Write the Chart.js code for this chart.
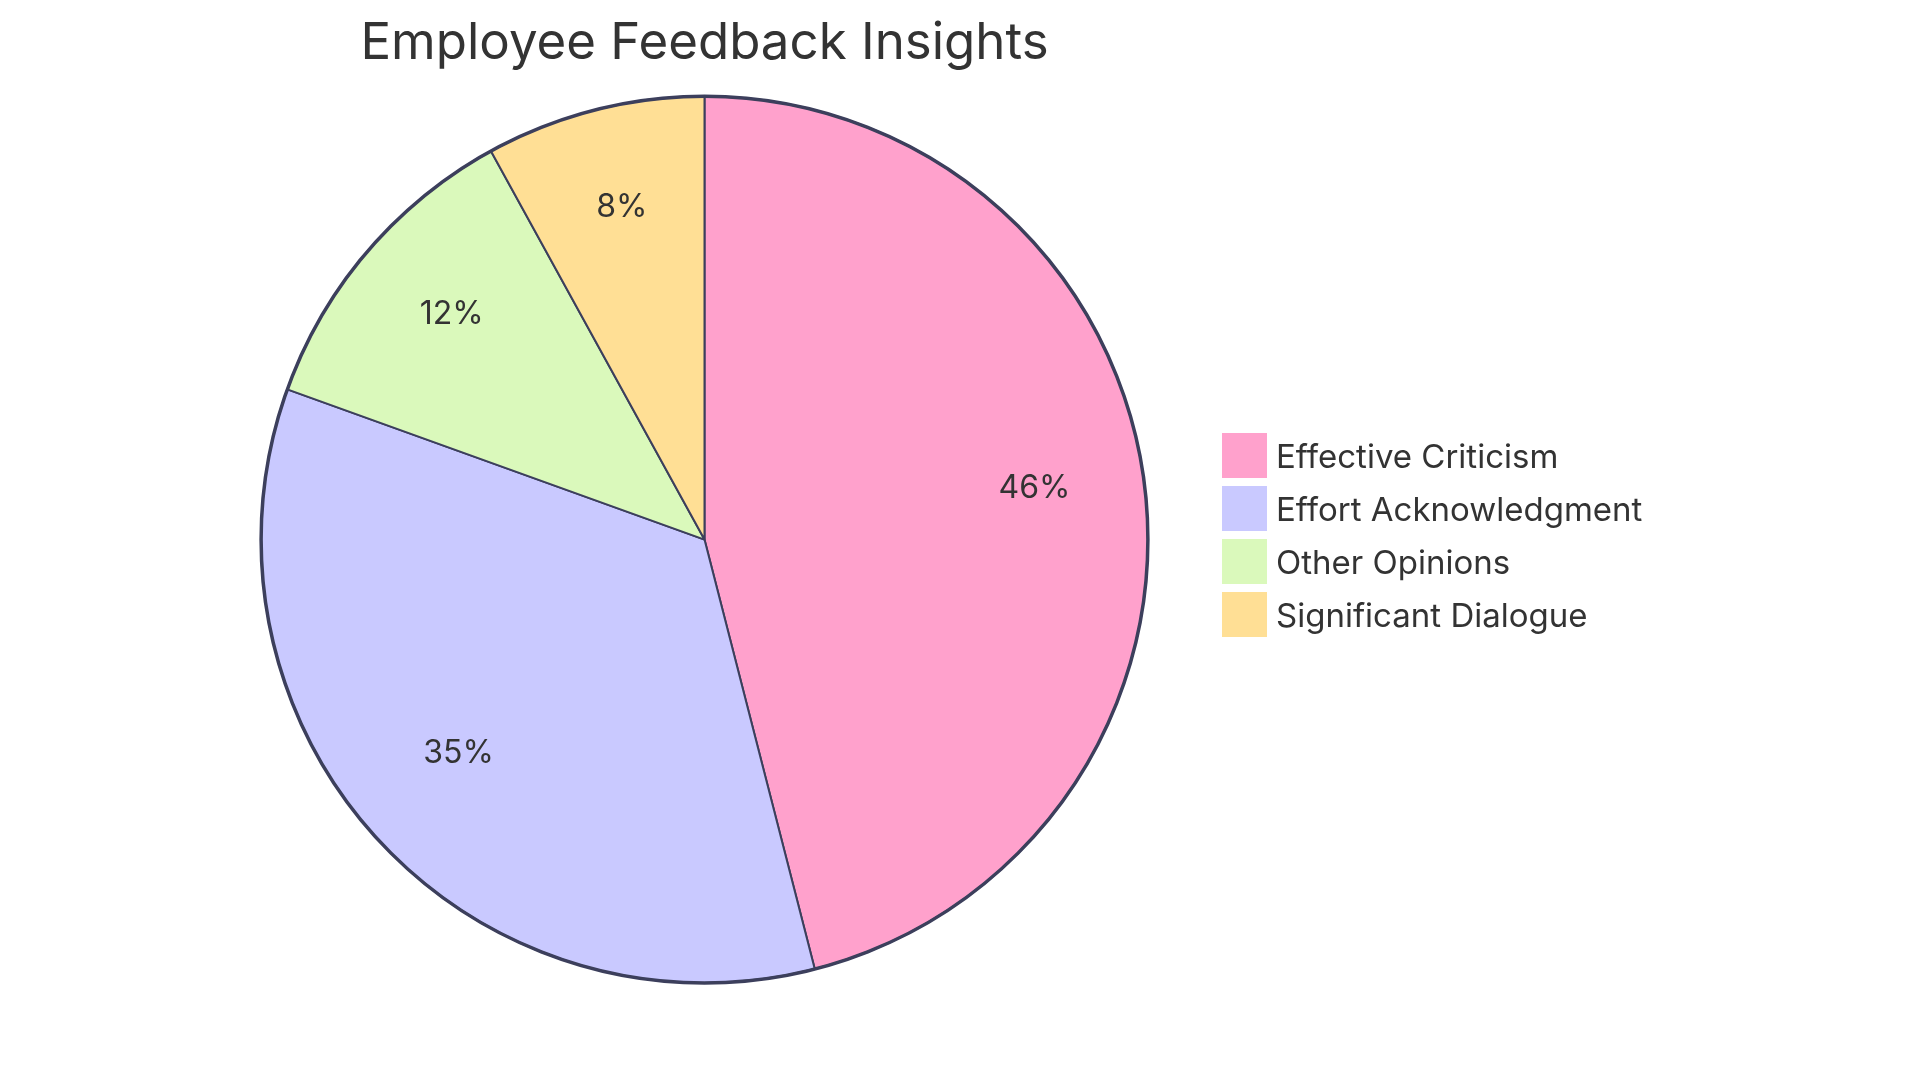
<!DOCTYPE html>
<html>
<head>
<meta charset="utf-8">
<script src="https://cdn.jsdelivr.net/npm/chart.js@4.4.1/dist/chart.umd.min.js"></script>
<style>
    html, body {margin: 0; padding: 0; background: #fff;}
    #wrap {position: relative; width: 1920px; height: 1083px;}
    #legend {position: absolute; left: 1222px; top: 433px; font-family: Inter, sans-serif; font-size: 33px; color: #333;}
    .item {display: flex; align-items: center; height: 45px; margin-bottom: 8px;}
    .box {width: 45px; height: 45px; margin-right: 9px; box-sizing: border-box;}
</style>
</head>
<body>
<div id="wrap">
    <canvas id="chart" width="1920" height="1083"></canvas>
    <div id="legend"></div>
</div>
<script>
const TITLE      = 'Employee Feedback Insights';
const categories = ['Effective Criticism', 'Effort Acknowledgment', 'Other Opinions', 'Significant Dialogue'];
const values     = [46, 34.5, 11.5, 8];
const colors     = ['#FFA1CC', '#C9C9FF', '#DAF9BB', '#FFDF95'];

const STROKE = '#3C3F5C';
const TEXT   = '#333333';
const FONT   = 'Inter, sans-serif';

/**
 * Writes rounded percentages into the slices (at 3/4 of the radius)
 * and strokes the outer ring a bit thicker, the way the original does
 */
const sliceLabels = {
    id: 'sliceLabels',
    afterDatasetsDraw(chart) {
        const ctx   = chart.ctx;
        const arcs  = chart.getDatasetMeta(0).data;
        const total = values.reduce((a, b) => a + b, 0);
        if (!arcs.length) {return}
        const {x, y, outerRadius} = arcs[0].getProps(['x', 'y', 'outerRadius'], true);

        ctx.save();
        ctx.beginPath();
        ctx.arc(x, y, outerRadius, 0, Math.PI * 2);
        ctx.lineWidth   = 3.5;
        ctx.strokeStyle = STROKE;
        ctx.stroke();

        ctx.font         = `32px ${FONT}`;
        ctx.fillStyle    = TEXT;
        ctx.textAlign    = 'center';
        ctx.textBaseline = 'alphabetic';
        arcs.forEach((arc, i) => {
            const p   = arc.getProps(['startAngle', 'endAngle'], true);
            const mid = (p.startAngle + p.endAngle) / 2;
            const r   = outerRadius * 0.75;
            ctx.fillText(`${Math.round(values[i] / total * 100)}%`, x + Math.cos(mid) * r, y + Math.sin(mid) * r);
        });
        ctx.restore();
    }
};

new Chart(document.getElementById('chart'), {
    type: 'pie',
    data: {
        labels: categories,
        datasets: [{
            data            : values,
            backgroundColor : colors,
            borderColor     : STROKE,
            borderWidth     : 2,
            hoverBorderWidth: 2,
            hoverOffset     : 0
        }]
    },
    options: {
        responsive         : false,
        devicePixelRatio   : 1,
        animation          : false,
        layout             : {padding: {left: 260, right: 771, top: 0, bottom: 99}},
        plugins: {
            legend : {display: false},
            tooltip: {enabled: false},
            title  : {
                display: true,
                text   : TITLE,
                color  : TEXT,
                font   : {family: FONT, size: 51, weight: 'normal', lineHeight: 1.2},
                padding: {top: 13, bottom: 21}
            }
        }
    },
    plugins: [sliceLabels]
});

// legend is plain html, built from the same arrays
const legend = document.getElementById('legend');
categories.forEach((name, i) => {
    const item = document.createElement('div');
    item.className = 'item';
    item.innerHTML = `<div class="box" style="background:${colors[i]}"></div><span>${name}</span>`;
    legend.appendChild(item);
});
</script>
</body>
</html>
